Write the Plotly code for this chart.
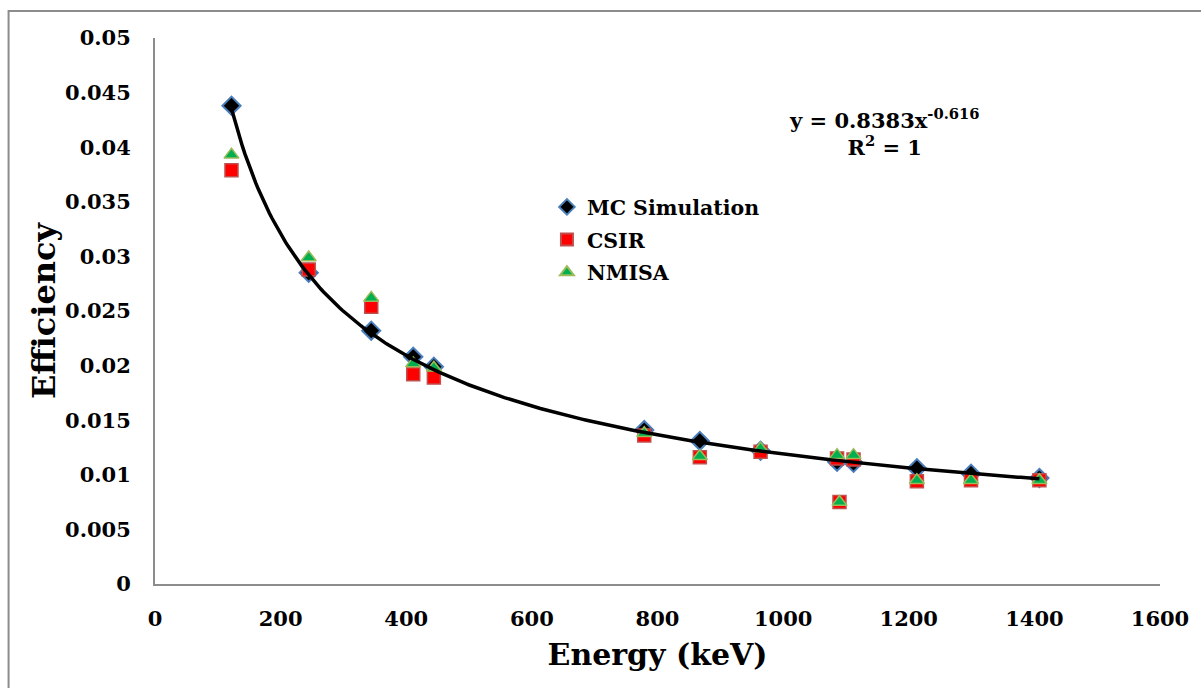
import numpy as np
import plotly.graph_objects as go

# Energies (keV)
mc_energy = [121.78, 244.7, 344.28, 411.12, 443.96, 778.9, 867.38, 964.08,
             1085.84, 1112.08, 1212.95, 1299.14, 1408.01]
mc_eff = [0.0438, 0.0285, 0.0232, 0.0208, 0.0199, 0.0141, 0.0131, 0.0122,
          0.0112, 0.0111, 0.0106, 0.0101, 0.0097]

exp_energy = [121.78, 244.7, 344.28, 411.12, 443.96, 778.9, 867.38, 964.08,
              1085.84, 1089.74, 1112.08, 1212.95, 1299.14, 1408.01]
csir_eff = [0.0379, 0.0288, 0.0254, 0.0192, 0.0189, 0.0136, 0.0116, 0.0121,
            0.0115, 0.0075, 0.0114, 0.0094, 0.0095, 0.0095]
nmisa_eff = [0.0393, 0.0299, 0.0262, 0.0202, 0.0198, 0.0138, 0.0117, 0.0124,
             0.0118, 0.0075, 0.0118, 0.0095, 0.0095, 0.0095]

# Power-law trendline coefficients shown in the chart
fit_a = 0.8383
fit_b = -0.616

y_ticks = [0, 0.005, 0.01, 0.015, 0.02, 0.025, 0.03, 0.035, 0.04, 0.045, 0.05]
y_ticktext = ["0", "0.005", "0.01", "0.015", "0.02", "0.025", "0.03", "0.035",
              "0.04", "0.045", "0.05"]
x_ticks = [0, 200, 400, 600, 800, 1000, 1200, 1400, 1600]

FONT = "DejaVu Serif"

fig = go.Figure()
fig.add_trace(go.Scatter(
    x=mc_energy, y=mc_eff, mode="markers", name="MC Simulation", legendgroup="a",
    marker=dict(symbol="diamond", size=14, color="black",
                line=dict(color="#4a7ebb", width=2))))
fig.add_trace(go.Scatter(
    x=exp_energy, y=csir_eff, mode="markers", name="CSIR", legendgroup="b",
    marker=dict(symbol="square", size=13, color="#ff0000",
                line=dict(color="#c0504d", width=1.5))))
fig.add_trace(go.Scatter(
    x=exp_energy, y=nmisa_eff, mode="markers", name="NMISA", legendgroup="c",
    marker=dict(symbol="triangle-up", size=13, color="#00b050",
                line=dict(color="#9bbb59", width=1.5))))

xf = np.linspace(min(mc_energy), max(mc_energy), 300)
fig.add_trace(go.Scatter(
    x=xf, y=fit_a * xf ** fit_b, mode="lines", showlegend=False,
    line=dict(color="black", width=3.5), hoverinfo="skip"))

fig.update_layout(
    width=1201, height=688, autosize=False,
    margin=dict(l=155, r=37, t=38, b=104),
    paper_bgcolor="white", plot_bgcolor="white",
    font=dict(family=FONT, size=21, color="black", weight="bold"),
    legend=dict(x=0.39, y=0.727, xanchor="left", yanchor="top",
                bgcolor="rgba(0,0,0,0)", font=dict(size=20.5, family=FONT, weight="bold"),
                traceorder="grouped", tracegroupgap=3, itemsizing="constant"),
    xaxis=dict(range=[0, 1600], tickvals=x_ticks, showgrid=False, zeroline=False,
               showline=True, linecolor="#8c8c8c", linewidth=2, ticks="",
               ticklabelstandoff=15,
               title=dict(text="Energy (keV)", font=dict(size=30, family=FONT, weight="bold"),
                          standoff=14)),
    yaxis=dict(range=[0, 0.05], tickvals=y_ticks, ticktext=y_ticktext, showgrid=False,
               zeroline=False, showline=True, linecolor="#8c8c8c", linewidth=2, ticks="",
               ticklabelstandoff=18,
               title=dict(text="Efficiency", font=dict(size=32, family=FONT, weight="bold"),
                          standoff=0)),
    shapes=[dict(type="rect", xref="paper", yref="paper",
                 x0=-0.1457, x1=1.05, y0=-0.25, y1=1.0495,
                 line=dict(color="#8c8c8c", width=2), fillcolor="rgba(0,0,0,0)",
                 layer="below")],
    annotations=[
        dict(x=0.7255, y=0.827, xref="paper", yref="paper", showarrow=False,
             xanchor="center", yanchor="middle",
             text="y = 0.8383x<sup>-0.616</sup><br>R<sup>2</sup> = 1", align="center",
             font=dict(size=21, family=FONT, weight="bold"))
    ],
)

fig.write_html("out.html")
